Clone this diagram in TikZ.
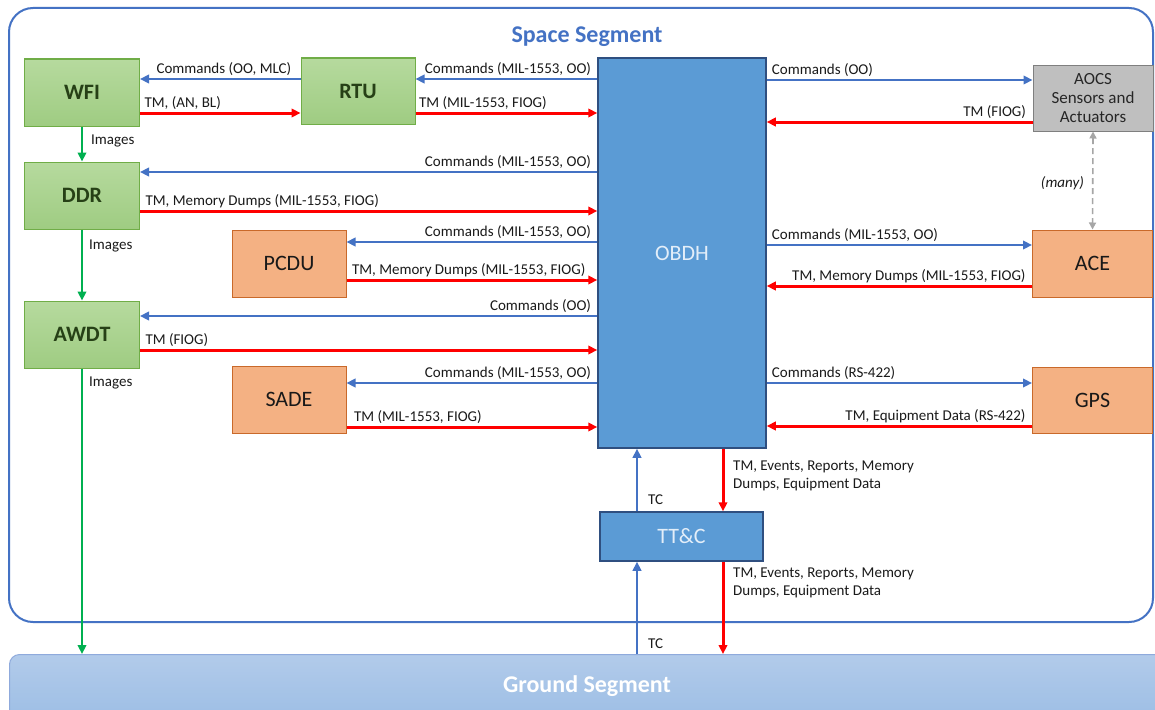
\documentclass[tikz,border=0pt]{standalone}
\usepackage{fontspec}
\setmainfont{Carlito}
\usetikzlibrary{arrows.meta,calc}
\definecolor{bluA}{HTML}{4472C4}
\definecolor{redC}{HTML}{FF0000}
\definecolor{grnA}{HTML}{00B050}
\definecolor{grnB}{HTML}{70AD47}
\definecolor{grnT}{HTML}{B6DA9E}
\definecolor{grnM}{HTML}{9FCC82}
\definecolor{grnTx}{HTML}{264016}
\definecolor{orgF}{HTML}{F4B183}
\definecolor{orgB}{HTML}{C9692A}
\definecolor{gryF}{HTML}{BFBFBF}
\definecolor{gryB}{HTML}{7F7F7F}
\definecolor{gryD}{HTML}{A6A6A6}
\definecolor{obdF}{HTML}{5B9BD5}
\definecolor{obdB}{HTML}{2F4F80}
\definecolor{obdTx}{HTML}{E3EEF9}
\definecolor{gndT}{HTML}{B2CBEA}
\definecolor{gndB}{HTML}{98BBE4}
\definecolor{gndD}{HTML}{8FAADC}
\definecolor{lblTx}{HTML}{1A1A1A}
\tikzset{
  box/.style={draw, line width=1pt, inner sep=0pt, align=center},
  gbox/.style={box, draw=grnB, top color=grnT, bottom color=grnM, text=grnTx,
    font=\fontsize{22}{26}\selectfont\bfseries, minimum width=115, minimum height=67},
  obox/.style={box, draw=orgB, fill=orgF, text=black!90,
    font=\fontsize{22}{26}\selectfont, minimum width=114, minimum height=67},
  graybox/.style={box, draw=gryB, fill=gryF, text=black!85,
    font=\fontsize{17}{19}\selectfont, minimum width=120, minimum height=66},
  bbox/.style={box, draw=obdB, line width=1.5pt, fill=obdF, text=obdTx,
    font=\fontsize{22}{26}\selectfont},
  tip/.style={-{Triangle[length=9pt,width=8.5pt]}},
  cmdline/.style={draw=bluA, line width=2.4pt, tip},
  tmline/.style={draw=redC, line width=3pt, tip},
  imgline/.style={draw=grnA, line width=2.6pt, tip},
  lbl/.style={inner sep=0pt, text=lblTx, font=\fontsize{15}{17.5}\selectfont},
  lblL/.style={lbl, pos=0, anchor=base east, xshift=-5pt, yshift=5.5pt},
  lblR/.style={lbl, pos=0, anchor=base west, xshift=4pt, yshift=5.5pt},
}
\begin{document}
\begin{tikzpicture}[x=1pt,y=-1pt]
\clip (0,0) rectangle (1155,709);
\useasboundingbox (0,0) rectangle (1155,709);
\fill[white] (0,0) rectangle (1155,709);

% frames
\draw[bluA, line width=2pt, rounded corners=24pt] (9,8) rectangle (1153,622);
\node[font=\fontsize{24}{28}\selectfont\bfseries, text=bluA] (title) at (587,37) {Space Segment};
\node[draw=gndD, line width=1pt, top color=gndT, bottom color=gndB, rounded corners=10pt,
      minimum width=1170, minimum height=80, anchor=north west, inner sep=0pt] (ground) at (9,654) {};
\node[font=\fontsize{24}{28}\selectfont\bfseries, text=white] (gtext) at (587,686) {Ground Segment};

% boxes
\node[gbox] (wfi) at (82,92.5) {WFI};
\node[gbox, minimum width=114, minimum height=66] (rtu) at (358,91) {RTU};
\node[gbox] (ddr) at (82,195.5) {DDR};
\node[gbox] (awdt) at (82,334.5) {AWDT};
\node[obox] (pcdu) at (289,263.5) {PCDU};
\node[obox] (sade) at (289,399.5) {SADE};
\node[bbox, minimum width=168, minimum height=390] (obdh) at (682,253) {OBDH};
\node[graybox] (aocs) at (1093,98) {AOCS\\Sensors and\\Actuators};
\node[obox, minimum width=120] (ace) at (1092.5,263.5) {ACE};
\node[obox, minimum width=120, minimum height=66] (gps) at (1092.5,400) {GPS};
\node[bbox, minimum width=163, minimum height=49] (ttc) at (681.5,536.5) {TT\&C};

% row levels
\coordinate (a1) at (0,79);  \coordinate (a2) at (0,113);
\coordinate (b1) at (0,172); \coordinate (b2) at (0,211);
\coordinate (c1) at (0,242); \coordinate (c2) at (0,280);
\coordinate (d1) at (0,316); \coordinate (d2) at (0,350);
\coordinate (e1) at (0,383); \coordinate (e2) at (0,427);
\coordinate (f1) at (0,80);  \coordinate (f2) at (0,122);
\coordinate (g1) at (0,245); \coordinate (g2) at (0,286);
\coordinate (h1) at (0,383); \coordinate (h2) at (0,426);
\coordinate (tcx) at (637,0); \coordinate (tmx) at (723,0);

% WFI - RTU
\draw[cmdline] (rtu.west |- a1) -- node[lblL, xshift=-3pt]{Commands (OO, MLC)} (wfi.east |- a1);
\draw[tmline] (wfi.east |- a2) -- node[lblR, xshift=-1pt]{TM, (AN, BL)} (rtu.west |- a2);
% RTU - OBDH
\draw[cmdline] (obdh.west |- a1) -- node[lblL]{Commands (MIL-1553, OO)} (rtu.east |- a1);
\draw[tmline] (rtu.east |- a2) -- node[lblR, xshift=-2pt]{TM (MIL-1553, FIOG)} (obdh.west |- a2);
% DDR
\draw[cmdline] (obdh.west |- b1) -- node[lblL]{Commands (MIL-1553, OO)} (ddr.east |- b1);
\draw[tmline] (ddr.east |- b2) -- node[lblR]{TM, Memory Dumps (MIL-1553, FIOG)} (obdh.west |- b2);
% PCDU
\draw[cmdline] (obdh.west |- c1) -- node[lblL]{Commands (MIL-1553, OO)} (pcdu.east |- c1);
\draw[tmline] (pcdu.east |- c2) -- node[lblR]{TM, Memory Dumps (MIL-1553, FIOG)} (obdh.west |- c2);
% AWDT
\draw[cmdline] (obdh.west |- d1) -- node[lblL]{Commands (OO)} (awdt.east |- d1);
\draw[tmline] (awdt.east |- d2) -- node[lblR]{TM (FIOG)} (obdh.west |- d2);
% SADE
\draw[cmdline] (obdh.west |- e1) -- node[lblL]{Commands (MIL-1553, OO)} (sade.east |- e1);
\draw[tmline] (sade.east |- e2) -- node[lblR, xshift=2pt]{TM (MIL-1553, FIOG)} (obdh.west |- e2);
% AOCS
\draw[cmdline] (obdh.east |- f1) -- node[lblR]{Commands (OO)} (aocs.west |- f1);
\draw[tmline] (aocs.west |- f2) -- node[lblL]{TM (FIOG)} (obdh.east |- f2);
% ACE
\draw[cmdline] (obdh.east |- g1) -- node[lblR]{Commands (MIL-1553, OO)} (ace.west |- g1);
\draw[tmline] (ace.west |- g2) -- node[lblL]{TM, Memory Dumps (MIL-1553, FIOG)} (obdh.east |- g2);
% GPS
\draw[cmdline] (obdh.east |- h1) -- node[lblR]{Commands (RS-422)} (gps.west |- h1);
\draw[tmline] (gps.west |- h2) -- node[lblL]{TM, Equipment Data (RS-422)} (obdh.east |- h2);

% AOCS <-> ACE
\draw[gryD, line width=1.6pt, dash pattern=on 6pt off 4pt,
      {Triangle[length=7pt,width=7pt]}-{Triangle[length=7pt,width=7pt]}] (aocs.south) -- (ace.north);
\node[lbl, anchor=base east, font=\fontsize{15}{17.5}\selectfont\itshape] (many) at (1084,187) {(many)};

% images
\draw[imgline] (wfi.south) -- (ddr.north);
\draw[imgline] (ddr.south) -- (awdt.north);
\draw[imgline] (awdt.south) -- (awdt.south |- ground.north);
\node[lbl, anchor=base west] (img1) at (91,144) {Images};
\node[lbl, anchor=base west] (img2) at (89,249) {Images};
\node[lbl, anchor=base west] (img3) at (89,386) {Images};

% TT&C links
\draw[cmdline] (ttc.north -| tcx) -- (obdh.south -| tcx);
\draw[tmline] (obdh.south -| tmx) -- (ttc.north -| tmx);
\draw[cmdline] (ground.north -| tcx) -- (ttc.south -| tcx);
\draw[tmline] (ttc.south -| tmx) -- (ground.north -| tmx);
\node[lbl, anchor=base west] (tc1) at (648,504) {TC};
\node[lbl, anchor=base west] (tc2) at (648,648) {TC};
\node[lbl, anchor=north west, align=left] (tm1) at (733,461) {TM, Events, Reports, Memory\\Dumps, Equipment Data};
\node[lbl, anchor=north west, align=left] (tm2) at (733,568) {TM, Events, Reports, Memory\\Dumps, Equipment Data};
\end{tikzpicture}
\end{document}
